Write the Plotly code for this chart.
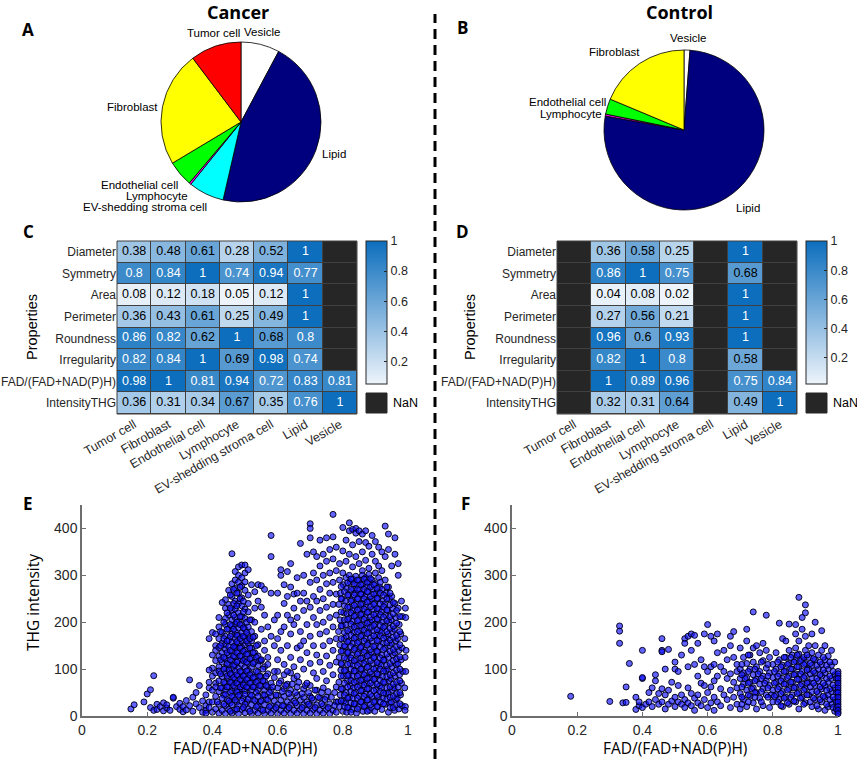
import plotly.graph_objects as go

W, H = 857, 759
def fx(p): return p / W
def fy(p): return 1 - p / H

# ---------------- data ----------------
pie_labels = ["Vesicle", "Lipid", "EV-shedding stroma cell", "Lymphocyte",
              "Endothelial cell", "Fibroblast", "Tumor cell"]
pie_colors = ["#ffffff", "#00007f", "#00ffff", "#ff00ff", "#00ff00", "#ffff00", "#ff0000"]
cancer_share = [7.8, 45.8, 7.2, 0.4, 5.2, 23.3, 10.3]
control_share = [1.2, 76.6, 0.0, 0.4, 3.1, 18.7, 0.0]

categories = ["Tumor cell", "Fibroblast", "Endothelial cell", "Lymphocyte",
              "EV-shedding stroma cell", "Lipid", "Vesicle"]
properties = ["Diameter", "Symmetry", "Area", "Perimeter", "Roundness",
              "Irregularity", "FAD/(FAD+NAD(P)H)", "IntensityTHG"]
N = None
cancer_matrix = [
    [0.38, 0.48, 0.61, 0.28, 0.52, 1, N],
    [0.8, 0.84, 1, 0.74, 0.94, 0.77, N],
    [0.08, 0.12, 0.18, 0.05, 0.12, 1, N],
    [0.36, 0.43, 0.61, 0.25, 0.49, 1, N],
    [0.86, 0.82, 0.62, 1, 0.68, 0.8, N],
    [0.82, 0.84, 1, 0.69, 0.98, 0.74, N],
    [0.98, 1, 0.81, 0.94, 0.72, 0.83, 0.81],
    [0.36, 0.31, 0.34, 0.67, 0.35, 0.76, 1],
]
control_matrix = [
    [N, 0.36, 0.58, 0.25, N, 1, N],
    [N, 0.86, 1, 0.75, N, 0.68, N],
    [N, 0.04, 0.08, 0.02, N, 1, N],
    [N, 0.27, 0.56, 0.21, N, 1, N],
    [N, 0.96, 0.6, 0.93, N, 1, N],
    [N, 0.82, 1, 0.8, N, 0.58, N],
    [N, 1, 0.89, 0.96, N, 0.75, 0.84],
    [N, 0.32, 0.31, 0.64, N, 0.49, 1],
]

# (FAD/(FAD+NAD(P)H), THG intensity) (cancer)
cancer_points = [
    # left tail
    (0.15,15),(0.16,24),(0.19,30),(0.20,47),(0.21,56),(0.22,86),(0.21,18),(0.22,12),(0.23,25),(0.23,14),
    (0.24,20),(0.25,11),(0.25,28),(0.26,17),(0.26,24),(0.27,12),(0.28,38),(0.28,40),(0.29,20),(0.30,27),
    (0.30,14),(0.31,9),(0.31,20),(0.32,33),(0.32,13),(0.33,77),(0.33,22),(0.34,40),(0.34,10),(0.35,26),
    (0.35,50),(0.36,65),(0.36,18),(0.37,32),(0.37,8),(0.38,45),(0.38,22),(0.38,12),(0.39,60),(0.39,30),
    (0.39,165),(0.40,102),(0.40,178),(0.39,98),(0.41,70),(0.41,150),
    # peak near 0.47
    (0.46,346),(0.48,318),(0.49,322),(0.50,322),(0.47,308),(0.48,300),(0.50,305),(0.49,295),(0.51,312),
    (0.45,268),(0.46,282),(0.47,290),(0.47,272),(0.48,285),(0.48,262),(0.49,278),(0.50,268),(0.50,286),
    (0.51,258),(0.52,280),(0.44,248),(0.46,255),(0.49,252),(0.53,265),
    (0.43,242),(0.44,230),(0.45,238),(0.45,215),(0.46,225),(0.46,205),(0.47,245),(0.47,228),(0.47,210),
    (0.48,240),(0.48,220),(0.48,202),(0.49,235),(0.49,212),(0.50,228),(0.50,208),(0.51,222),(0.51,240),
    (0.52,205),(0.42,210),(0.44,208),(0.53,230),
    (0.42,190),(0.42,165),(0.43,178),(0.43,155),(0.44,195),(0.44,170),(0.44,152),(0.45,185),(0.45,162),
    (0.46,192),(0.46,175),(0.46,158),(0.47,196),(0.47,180),(0.47,165),(0.47,150),(0.48,188),(0.48,172),
    (0.48,155),(0.49,195),(0.49,178),(0.49,160),(0.50,185),(0.50,168),(0.50,152),(0.51,190),(0.51,172),
    (0.51,155),(0.52,180),(0.52,160),(0.53,170),(0.54,152),(0.41,175),(0.55,185),
    (0.40,130),(0.41,118),(0.41,140),(0.42,105),(0.42,128),(0.42,146),(0.43,115),(0.43,135),(0.44,102),
    (0.44,122),(0.44,142),(0.45,110),(0.45,130),(0.45,148),(0.46,100),(0.46,118),(0.46,138),(0.47,108),
    (0.47,126),(0.47,145),(0.48,102),(0.48,118),(0.48,136),(0.49,110),(0.49,128),(0.49,146),(0.50,104),
    (0.50,122),(0.50,140),(0.51,112),(0.51,132),(0.52,104),(0.52,124),(0.52,145),(0.53,115),(0.53,135),
    (0.54,108),(0.54,128),(0.55,118),(0.56,140),(0.56,105),(0.57,125),
    (0.39,72),(0.40,55),(0.40,85),(0.41,62),(0.41,92),(0.42,52),(0.42,75),(0.42,96),(0.43,60),(0.43,84),
    (0.44,55),(0.44,70),(0.44,92),(0.45,62),(0.45,80),(0.45,98),(0.46,54),(0.46,72),(0.46,88),(0.47,60),
    (0.47,78),(0.47,95),(0.48,52),(0.48,68),(0.48,86),(0.49,58),(0.49,76),(0.49,94),(0.50,54),(0.50,70),
    (0.50,88),(0.51,60),(0.51,80),(0.51,97),(0.52,55),(0.52,72),(0.52,90),(0.53,62),(0.53,82),(0.54,56),
    (0.54,75),(0.54,94),(0.55,64),(0.55,84),(0.56,55),(0.56,74),(0.57,62),(0.57,90),(0.58,70),(0.58,55),
    (0.59,82),(0.60,60),(0.61,75),(0.62,58),(0.63,68),(0.64,55),(0.65,80),(0.66,62),(0.68,58),(0.70,65),
    (0.72,55),(0.74,60),(0.60,95),(0.62,88),(0.64,92),
    (0.425,60),(0.425,90),(0.425,120),(0.425,150),(0.425,180),(0.435,45),(0.435,72),(0.435,100),(0.435,125),
    (0.435,165),(0.435,200),(0.445,35),(0.445,62),(0.445,85),(0.445,112),(0.445,135),(0.445,160),(0.445,185),
    (0.445,220),(0.455,28),(0.455,50),(0.455,72),(0.455,90),(0.455,120),(0.455,140),(0.455,170),(0.455,195),
    (0.455,230),(0.455,258),(0.465,40),(0.465,65),(0.465,82),(0.465,108),(0.465,128),(0.465,148),(0.465,185),
    (0.465,215),(0.465,240),(0.465,270),(0.475,30),(0.475,52),(0.475,70),(0.475,88),(0.475,115),(0.475,135),
    (0.475,158),(0.475,172),(0.475,200),(0.475,235),(0.475,262),(0.485,45),(0.485,62),(0.485,78),(0.485,95),
    (0.485,128),(0.485,145),(0.485,165),(0.485,195),(0.485,212),(0.485,250),(0.485,275),(0.495,38),(0.495,66),
    (0.495,85),(0.495,118),(0.495,138),(0.495,170),(0.495,188),(0.495,222),(0.495,245),(0.505,30),(0.505,62),
    (0.505,78),(0.505,96),(0.505,115),(0.505,132),(0.505,160),(0.505,178),(0.505,200),(0.515,45),(0.515,70),
    (0.515,88),(0.515,122),(0.515,145),(0.515,165),(0.515,205),(0.525,35),(0.525,62),(0.525,82),(0.525,112),
    (0.525,135),(0.525,168),(0.535,50),(0.535,72),(0.535,95),(0.535,125),(0.535,150),(0.545,30),(0.545,65),
    (0.545,85),(0.545,118),(0.555,45),(0.555,75),(0.555,100),(0.565,35),(0.565,65),(0.565,85),
    # bottom band
    (0.38,6),(0.39,18),(0.40,8),(0.40,30),(0.41,15),(0.41,42),(0.42,6),(0.42,25),(0.43,12),(0.43,38),
    (0.44,5),(0.44,22),(0.44,46),(0.45,14),(0.45,32),(0.46,6),(0.46,24),(0.46,42),(0.47,12),(0.47,34),
    (0.48,5),(0.48,22),(0.48,44),(0.49,14),(0.49,32),(0.50,7),(0.50,25),(0.50,46),(0.51,15),(0.51,36),
    (0.52,5),(0.52,24),(0.52,44),(0.53,12),(0.53,33),(0.54,6),(0.54,22),(0.54,42),(0.55,14),(0.55,32),
    (0.56,5),(0.56,24),(0.56,45),(0.57,12),(0.57,35),(0.58,6),(0.58,22),(0.58,42),(0.59,14),(0.59,32),
    (0.60,5),(0.60,24),(0.60,44),(0.61,12),(0.61,34),(0.62,6),(0.62,22),(0.62,42),(0.63,14),(0.63,30),
    (0.64,5),(0.64,24),(0.64,40),(0.65,12),(0.65,32),(0.66,6),(0.66,22),(0.66,44),(0.67,14),(0.67,34),
    (0.68,5),(0.68,24),(0.68,40),(0.69,12),(0.69,30),(0.70,6),(0.70,22),(0.70,42),(0.71,14),(0.71,34),
    (0.72,5),(0.72,24),(0.73,12),(0.73,38),(0.74,6),(0.74,22),(0.75,14),(0.75,40),(0.76,5),(0.76,26),
    (0.77,12),(0.78,30),(0.78,8),
    (0.575,50),(0.585,62),(0.595,45),(0.605,70),(0.615,52),(0.625,65),(0.635,48),(0.645,68),(0.655,50),
    (0.665,72),(0.675,48),(0.685,65),(0.695,50),(0.705,38),(0.715,55),(0.725,40),(0.735,50),(0.745,35),
    (0.755,52),(0.765,40),(0.775,50),(0.785,30),(0.575,20),(0.595,18),(0.615,22),(0.635,18),(0.655,28),
    (0.675,18),(0.695,25),(0.715,18),(0.735,26),(0.755,18),(0.775,22),(0.415,30),(0.435,25),(0.455,10),
    (0.475,15),(0.495,18),(0.515,10),(0.535,20),(0.555,12),
    # sparse middle
    (0.53,200),(0.54,245),(0.54,280),(0.55,278),(0.55,232),(0.56,270),(0.56,215),(0.57,190),(0.58,385),
    (0.58,340),(0.58,262),(0.58,170),(0.59,150),(0.59,205),(0.60,262),(0.60,215),(0.60,120),(0.61,312),
    (0.61,300),(0.61,180),(0.61,140),(0.62,280),(0.62,240),(0.62,190),(0.62,110),(0.63,308),(0.63,255),
    (0.63,215),(0.63,150),(0.64,325),(0.64,275),(0.64,175),(0.64,125),(0.65,260),(0.65,230),(0.65,195),
    (0.65,105),(0.66,295),(0.66,262),(0.66,210),(0.66,145),(0.67,368),(0.67,245),(0.67,180),(0.67,120),
    (0.68,300),(0.68,262),(0.68,225),(0.68,160),(0.68,100),(0.69,345),(0.69,245),(0.69,195),(0.69,135),
    (0.70,410),(0.70,400),(0.70,380),(0.70,285),(0.70,232),(0.70,170),(0.70,112),(0.71,350),(0.71,305),
    (0.71,255),(0.71,210),(0.71,150),(0.71,92),(0.72,340),(0.72,290),(0.72,245),(0.72,195),(0.72,130),
    (0.72,80),(0.73,375),(0.73,320),(0.73,270),(0.73,225),(0.73,175),(0.73,115),(0.74,345),(0.74,300),
    (0.74,250),(0.74,200),(0.74,150),(0.74,95),(0.75,380),(0.75,330),(0.75,282),(0.75,232),(0.75,180),
    (0.75,128),(0.75,75),(0.76,355),(0.76,305),(0.76,262),(0.76,210),(0.76,160),(0.76,108),(0.77,430),
    (0.77,382),(0.77,335),(0.77,285),(0.77,238),(0.77,190),(0.77,140),(0.77,88),(0.78,360),(0.78,310),
    (0.78,260),(0.78,215),(0.78,165),(0.78,115),(0.78,62),(0.57,110),(0.59,95),(0.63,95),(0.66,85),
    (0.69,70),(0.56,160),(0.60,165),(0.64,205),(0.67,150),(0.55,120),
    # right cluster, upper sparse part
    (0.80,402),(0.80,352),(0.81,330),(0.81,375),(0.82,412),(0.82,395),(0.82,345),(0.83,398),(0.83,365),
    (0.83,318),(0.84,400),(0.84,390),(0.84,340),(0.85,395),(0.85,372),(0.85,325),(0.86,388),(0.86,350),
    (0.86,310),(0.87,395),(0.87,370),(0.87,332),(0.88,362),(0.88,315),(0.89,385),(0.89,345),(0.90,372),
    (0.90,330),(0.90,305),(0.91,360),(0.91,320),(0.92,350),(0.92,310),(0.93,405),(0.93,340),(0.94,388),
    (0.94,355),(0.95,320),(0.96,380),(0.96,345),(0.97,300),(0.97,325),(0.79,325),(0.80,305),
    # right cluster, dense core
    (0.790,290),(0.793,262),(0.788,238),(0.792,205),(0.787,180),(0.791,152),(0.789,125),(0.794,98),(0.788,72),(0.792,45),(0.790,20),
    (0.802,280),(0.798,250),(0.803,220),(0.799,192),(0.804,165),(0.800,138),(0.797,110),(0.802,85),(0.799,58),(0.803,32),(0.800,10),
    (0.810,295),(0.812,272),(0.808,245),(0.813,218),(0.809,195),(0.811,170),(0.807,148),(0.812,122),(0.809,98),(0.814,75),(0.810,50),(0.808,28),(0.812,8),
    (0.820,300),(0.823,285),(0.818,258),(0.822,232),(0.819,208),(0.824,185),(0.820,160),(0.817,136),(0.822,112),(0.819,88),(0.823,64),(0.820,40),(0.818,18),
    (0.830,292),(0.833,270),(0.828,248),(0.832,225),(0.829,202),(0.834,178),(0.830,155),(0.827,130),(0.832,108),(0.829,85),(0.833,60),(0.830,38),(0.828,14),
    (0.840,298),(0.843,280),(0.838,262),(0.842,238),(0.839,215),(0.844,192),(0.840,168),(0.837,145),(0.842,120),(0.839,96),(0.843,74),(0.840,50),(0.838,26),(0.842,6),
    (0.850,290),(0.853,270),(0.848,250),(0.852,228),(0.849,205),(0.854,182),(0.850,158),(0.847,135),(0.852,112),(0.849,88),(0.853,65),(0.850,42),(0.848,20),
    (0.860,300),(0.863,282),(0.858,260),(0.862,240),(0.859,218),(0.864,195),(0.860,172),(0.857,148),(0.862,124),(0.859,100),(0.863,78),(0.860,55),(0.858,30),(0.862,10),
    (0.870,295),(0.873,275),(0.868,255),(0.872,232),(0.869,210),(0.874,188),(0.870,165),(0.867,140),(0.872,116),(0.869,92),(0.873,70),(0.870,46),(0.868,22),
    (0.880,302),(0.883,285),(0.878,265),(0.882,245),(0.879,222),(0.884,200),(0.880,178),(0.877,155),(0.882,130),(0.879,106),(0.883,82),(0.880,58),(0.878,35),(0.882,12),
    (0.890,290),(0.893,270),(0.888,250),(0.892,228),(0.889,205),(0.894,182),(0.890,160),(0.887,136),(0.892,112),(0.889,90),(0.893,66),(0.890,42),(0.888,18),
    (0.900,282),(0.903,262),(0.898,240),(0.902,218),(0.899,196),(0.904,172),(0.900,150),(0.897,126),(0.902,102),(0.899,80),(0.903,56),(0.900,32),(0.898,10),
    (0.910,295),(0.913,275),(0.908,250),(0.912,228),(0.909,205),(0.914,182),(0.910,160),(0.907,136),(0.912,112),(0.909,88),(0.913,64),(0.910,40),(0.908,20),
    (0.920,270),(0.923,245),(0.918,222),(0.922,200),(0.919,178),(0.924,155),(0.920,130),(0.917,108),(0.922,84),(0.919,60),(0.923,38),(0.920,14),
    (0.930,290),(0.933,262),(0.928,238),(0.932,215),(0.929,192),(0.934,168),(0.930,145),(0.927,120),(0.932,96),(0.929,72),(0.933,48),(0.930,25),
    (0.940,275),(0.943,250),(0.938,225),(0.942,200),(0.939,175),(0.944,150),(0.940,125),(0.937,100),(0.942,75),(0.939,50),(0.943,28),(0.940,8),
    (0.950,255),(0.953,230),(0.948,205),(0.952,180),(0.949,155),(0.954,130),(0.950,105),(0.947,80),(0.952,55),(0.949,30),
    (0.960,240),(0.963,210),(0.958,185),(0.962,160),(0.959,135),(0.964,110),(0.960,85),(0.957,60),(0.962,35),(0.959,12),
    (0.970,230),(0.973,195),(0.968,165),(0.972,140),(0.969,112),(0.974,88),(0.970,62),(0.967,38),(0.972,15),
    (0.980,245),(0.983,212),(0.978,175),(0.982,145),(0.979,120),(0.984,95),(0.980,70),(0.977,45),(0.982,22),
    (0.992,230),(0.993,210),(0.990,165),(0.994,140),(0.991,125),(0.993,95),(0.990,60),(0.992,20),(0.991,12),
]
# further points of the dense right-hand core of panel E, listed per FAD column
cancer_core_columns = {
    0.795: [276, 250, 222, 192, 165, 138, 112, 85, 58, 32],
    0.805: [265, 235, 205, 178, 150, 124, 97, 70, 45, 20],
    0.815: [284, 258, 232, 206, 182, 158, 135, 110, 86, 62, 38, 18],
    0.825: [292, 270, 245, 220, 196, 172, 148, 124, 100, 76, 52, 28, 8],
    0.835: [282, 258, 236, 213, 190, 166, 142, 118, 96, 72, 48, 26],
    0.845: [290, 270, 250, 226, 203, 180, 156, 132, 108, 85, 62, 38, 15],
    0.855: [280, 260, 238, 216, 193, 170, 146, 123, 100, 76, 54, 30],
    0.865: [292, 270, 250, 228, 206, 183, 160, 136, 112, 88, 66, 42, 20],
    0.875: [285, 265, 243, 221, 198, 176, 152, 128, 104, 80, 58, 34, 10],
    0.885: [293, 275, 255, 233, 211, 189, 166, 142, 118, 94, 70, 46, 24],
    0.895: [280, 260, 238, 216, 193, 171, 148, 124, 100, 78, 54, 30],
    0.905: [272, 251, 229, 207, 184, 161, 138, 114, 90, 68, 44, 20],
    0.915: [285, 262, 239, 216, 193, 171, 148, 124, 100, 76, 52, 30],
    0.925: [258, 233, 211, 189, 166, 142, 119, 96, 72, 49, 26],
    0.935: [275, 250, 226, 203, 180, 156, 132, 108, 84, 60, 36],
    0.945: [262, 237, 212, 187, 162, 138, 112, 88, 62, 40, 18],
    0.955: [242, 218, 192, 168, 142, 118, 92, 68, 42, 18],
    0.965: [225, 198, 172, 148, 122, 98, 72, 48, 24],
    0.975: [212, 180, 152, 126, 100, 75, 50, 26],
}

# (FAD/(FAD+NAD(P)H), THG intensity) (control)
control_points = [
    (0.18,42),(0.30,31),(0.33,192),(0.33,181),(0.33,155),(0.34,28),(0.35,29),(0.36,112),(0.35,62),(0.38,40),
    (0.38,14),(0.39,22),(0.39,30),(0.40,80),(0.40,82),(0.40,140),(0.40,18),(0.41,25),
    (0.42,50),(0.42,30),(0.43,20),(0.43,60),(0.44,35),(0.44,75),(0.44,88),(0.45,25),(0.45,48),(0.46,165),
    (0.46,140),(0.46,137),(0.46,58),(0.46,30),(0.47,15),(0.47,45),(0.47,100),(0.48,25),(0.48,55),(0.48,142),
    (0.49,32),(0.49,72),(0.50,20),(0.50,40),(0.50,115),(0.50,100),(0.51,30),(0.51,65),(0.51,95),(0.52,25),
    (0.52,45),(0.52,130),(0.53,165),(0.53,155),(0.53,35),(0.53,18),(0.54,170),(0.54,60),(0.54,28),(0.54,105),
    (0.55,175),(0.55,140),(0.55,48),(0.55,22),(0.56,172),(0.56,110),(0.56,38),(0.56,12),(0.57,155),(0.57,85),
    (0.57,45),(0.57,28),(0.58,120),(0.58,70),(0.58,22),(0.59,175),(0.59,105),(0.59,65),(0.59,35),(0.60,195),
    (0.60,95),(0.60,50),(0.60,18),(0.61,170),(0.61,105),(0.61,62),(0.61,28),(0.62,160),(0.62,110),(0.62,75),
    (0.62,40),(0.62,12),(0.63,175),(0.63,135),(0.63,85),(0.63,30),(0.64,105),(0.64,58),(0.64,22),(0.65,140),
    (0.65,95),(0.65,45),
    (0.66,120),(0.66,80),(0.66,35),(0.67,170),(0.67,150),(0.67,90),(0.67,55),(0.67,18),(0.68,180),(0.68,125),
    (0.68,72),(0.68,40),(0.69,110),(0.69,95),(0.69,60),(0.69,25),(0.70,145),(0.70,100),(0.70,80),(0.70,48),
    (0.70,15),(0.71,125),(0.71,92),(0.71,68),(0.71,35),(0.72,185),(0.72,160),(0.72,112),(0.72,82),(0.72,55),
    (0.72,20),(0.73,130),(0.73,100),(0.73,72),(0.73,42),(0.74,222),(0.74,145),(0.74,115),(0.74,88),(0.74,60),
    (0.74,28),(0.75,150),(0.75,105),(0.75,78),(0.75,50),(0.75,15),(0.76,135),(0.76,95),(0.76,68),(0.76,38),
    (0.77,155),(0.77,118),(0.77,85),(0.77,58),(0.77,22),(0.78,215),(0.78,140),(0.78,102),(0.78,75),(0.78,45),
    (0.79,125),(0.79,92),(0.79,65),(0.79,18),(0.80,110),(0.80,82),(0.80,55),(0.80,30),
    (0.81,135),(0.81,100),(0.81,72),(0.81,45),(0.82,198),(0.82,120),(0.82,90),(0.82,62),(0.82,35),(0.83,165),
    (0.83,108),(0.83,80),(0.83,52),(0.83,20),(0.84,160),(0.84,125),(0.84,95),(0.84,68),(0.84,40),(0.85,196),
    (0.85,140),(0.85,112),(0.85,85),(0.85,58),(0.85,25),(0.86,130),(0.86,100),(0.86,72),(0.86,45),(0.87,195),
    (0.87,175),(0.87,145),(0.87,118),(0.87,90),(0.87,62),(0.87,30),(0.88,253),(0.88,160),(0.88,132),(0.88,105),
    (0.88,78),(0.88,50),(0.88,15),(0.89,210),(0.89,185),(0.89,120),(0.89,95),(0.89,68),(0.89,40),(0.90,237),
    (0.90,220),(0.90,170),(0.90,140),(0.90,112),(0.90,85),(0.90,58),(0.90,28),(0.91,150),(0.91,125),(0.91,100),
    (0.91,72),(0.91,45),(0.92,175),(0.92,135),(0.92,108),(0.92,80),(0.92,52),(0.92,20),(0.93,200),(0.93,150),
    (0.93,120),(0.93,92),(0.93,65),(0.93,35),(0.94,130),(0.94,100),(0.94,75),(0.94,48),(0.94,15),(0.95,182),
    (0.95,140),(0.95,110),(0.95,85),(0.95,58),(0.95,30),(0.96,150),(0.96,120),(0.96,92),(0.96,65),(0.96,40),
    (0.96,12),(0.97,128),(0.97,100),(0.97,72),(0.97,45),(0.97,20),(0.98,140),(0.98,108),(0.98,80),(0.98,52),
    (0.98,25),(0.99,115),(0.99,88),(0.99,60),(0.99,35),(0.99,10),
    (1.0,95),(1.0,85),(1.0,75),(1.0,65),(1.0,55),(1.0,45),(1.0,35),(1.0,25),(1.0,15),(1.0,8),
    (0.815,85),(0.825,48),(0.835,95),(0.845,55),(0.855,100),(0.865,60),(0.875,105),(0.885,65),(0.895,110),
    (0.905,70),(0.915,90),(0.925,95),(0.935,80),(0.945,62),(0.955,70),(0.965,80),(0.975,58),(0.985,66),
    (0.995,50),(0.705,62),(0.715,80),(0.725,95),(0.735,58),(0.745,75),(0.755,90),(0.765,52),(0.775,70),
    (0.785,85),(0.795,45),
]
# further points of the dense core of panel F, listed per FAD column
control_core_columns = {
    0.705: [110, 88, 40, 25], 0.725: [130, 70, 45, 30], 0.745: [100, 50, 40], 0.765: [115, 80, 30],
    0.785: [110, 60, 40], 0.805: [95, 70, 42], 0.815: [115, 58, 30], 0.825: [105, 75, 22],
    0.835: [125, 68, 38], 0.845: [110, 82, 28], 0.855: [125, 72, 40], 0.865: [115, 88, 32],
    0.875: [130, 78, 48], 0.885: [118, 90, 38], 0.895: [125, 82, 55, 25], 0.905: [130, 98, 45],
    0.915: [112, 62, 30], 0.925: [122, 70, 38], 0.935: [108, 52, 22], 0.945: [115, 88, 35],
    0.955: [125, 98, 42], 0.965: [108, 55, 25], 0.975: [115, 85, 35], 0.985: [95, 40, 18],
    0.995: [80, 30, 15], 1.0: [90, 80, 70, 60, 50, 40, 30, 20, 12, 5],
}

x_ticks = [0, 0.2, 0.4, 0.6, 0.8, 1]
y_ticks = [0, 100, 200, 300, 400]
cbar_ticks = [0.2, 0.4, 0.6, 0.8, 1]

def all_points(points, columns):
    xs = [p[0] for p in points]
    ys = [p[1] for p in points]
    for cx, col in columns.items():
        xs += [cx] * len(col)
        ys += col
    return xs, ys

# ---------------- figure ----------------
TXT = "#262626"
FONT = "Liberation Sans, Arial, sans-serif"
TITLE_FONT = "Open Sans, sans-serif"
fig = go.Figure()

# pies
for share, dom in [(cancer_share, (161, 321, 42, 202)), (control_share, (604, 764, 50, 210))]:
    labs = [l for l, v in zip(pie_labels, share) if v > 0]
    vals = [v for v in share if v > 0]
    cols = [c for c, v in zip(pie_colors, share) if v > 0]
    fig.add_trace(go.Pie(labels=labs, values=vals, sort=False, direction="clockwise", rotation=0,
                         marker=dict(colors=cols, line=dict(color="black", width=0.8)),
                         textinfo="none", hoverinfo="label+percent", showlegend=False,
                         domain=dict(x=[fx(dom[0]), fx(dom[1])], y=[fy(dom[3]), fy(dom[2])])))

colorscale = [[0, "#eef4fb"], [1, "#0c6ebd"]]

def add_heat(matrix, xa, ya, cb_x):
    vals = [v for row in matrix for v in row if v is not None]
    fig.add_trace(go.Heatmap(z=matrix, x=list(range(len(categories))), y=list(range(len(properties))),
                             zmin=min(vals), zmax=1, colorscale=colorscale, xgap=1, ygap=1,
                             xaxis=xa, yaxis=ya, hoverinfo="skip",
                             colorbar=dict(x=fx(cb_x), xanchor="left", xpad=0, y=fy(241), yanchor="top",
                                           ypad=0, len=(384 - 241) / H, lenmode="fraction",
                                           thickness=21, thicknessmode="pixels",
                                           outlinewidth=1, outlinecolor=TXT,
                                           tickvals=cbar_ticks, ticktext=[f"{t:g}" for t in cbar_ticks],
                                           ticks="inside", ticklen=3, tickcolor=TXT,
                                           tickfont=dict(size=12.5, color=TXT, family=FONT))))
    nan_z = [[1 if v is None else None for v in row] for row in matrix]
    fig.add_trace(go.Heatmap(z=nan_z, x=list(range(len(categories))), y=list(range(len(properties))),
                             colorscale=[[0, "#262626"], [1, "#262626"]], showscale=False,
                             xgap=1, ygap=1, xaxis=xa, yaxis=ya, hoverinfo="skip"))
    tx, ty, tt, tc = [], [], [], []
    for i, row in enumerate(matrix):
        for j, v in enumerate(row):
            if v is None:
                continue
            tx.append(j); ty.append(i); tt.append(f"{v:g}")
            tc.append("white" if v >= 0.7 else "black")
    fig.add_trace(go.Scatter(x=tx, y=ty, text=tt, mode="text", xaxis=xa, yaxis=ya,
                             textfont=dict(color=tc, size=12.5, family=FONT),
                             hoverinfo="skip", showlegend=False))

add_heat(cancer_matrix, "x", "y", 366)
add_heat(control_matrix, "x2", "y2", 806)

marker = dict(size=6, color="rgba(15,15,255,0.65)", line=dict(color="rgba(0,0,25,0.95)", width=1))
ex, ey = all_points(cancer_points, cancer_core_columns)
cx_, cy_ = all_points(control_points, control_core_columns)
fig.add_trace(go.Scatter(x=ex, y=ey, mode="markers", marker=marker, xaxis="x3", yaxis="y3",
                         cliponaxis=False, showlegend=False, hoverinfo="x+y"))
fig.add_trace(go.Scatter(x=cx_, y=cy_, mode="markers", marker=marker, xaxis="x4", yaxis="y4",
                         cliponaxis=False, showlegend=False, hoverinfo="x+y"))

heat_x = dict(range=[-0.5, 6.5], tickvals=list(range(7)), ticktext=categories, tickangle=-30,
              showgrid=False, zeroline=False, ticks="", showline=False, automargin=False,
              tickfont=dict(size=12.5, color=TXT, family=FONT), fixedrange=True)
heat_y = dict(range=[7.5, -0.5], tickvals=list(range(8)), ticktext=properties,
              showgrid=False, zeroline=False, ticks="", showline=False, automargin=False,
              tickfont=dict(size=12, color=TXT, family=FONT), fixedrange=True)
sc_x = dict(range=[0, 1], tickvals=x_ticks, ticktext=[f"{t:g}" for t in x_ticks],
            showgrid=False, zeroline=False, showline=True, linecolor="#6e6e6e", linewidth=1.5,
            ticks="inside", ticklen=4, tickcolor="#6e6e6e", automargin=False,
            tickfont=dict(size=14, color=TXT, family=FONT))
sc_y = dict(range=[0, 450], tickvals=y_ticks, ticktext=[str(t) for t in y_ticks],
            showgrid=False, zeroline=False, showline=True, linecolor="#6e6e6e", linewidth=1.5,
            ticks="inside", ticklen=4, tickcolor="#6e6e6e", automargin=False,
            tickfont=dict(size=14, color=TXT, family=FONT))

fig.update_layout(
    width=W, height=H, margin=dict(l=0, r=0, t=0, b=0, autoexpand=False),
    paper_bgcolor="white", plot_bgcolor="white", showlegend=False,
    font=dict(family=FONT, color=TXT),
    xaxis=dict(domain=[fx(117), fx(357)], anchor="y", **heat_x),
    yaxis=dict(domain=[fy(414), fy(241)], anchor="x", **heat_y),
    xaxis2=dict(domain=[fx(557), fx(797)], anchor="y2", **heat_x),
    yaxis2=dict(domain=[fy(414), fy(241)], anchor="x2", **heat_y),
    xaxis3=dict(domain=[fx(82), fx(408)], anchor="y3", **sc_x),
    yaxis3=dict(domain=[fy(716), fy(505)], anchor="x3", **sc_y),
    xaxis4=dict(domain=[fx(512), fx(838)], anchor="y4", **sc_x),
    yaxis4=dict(domain=[fy(716), fy(505)], anchor="x4", **sc_y),
)

shapes = []
for xa, ya in [("x", "y"), ("x2", "y2")]:
    shapes.append(dict(type="rect", xref=f"{xa} domain", yref=f"{ya} domain", x0=0, x1=1, y0=0, y1=1,
                       fillcolor="#404040", line=dict(width=0), layer="below"))
    shapes.append(dict(type="rect", xref=f"{xa} domain", yref=f"{ya} domain", x0=0, x1=1, y0=0, y1=1,
                       fillcolor="rgba(0,0,0,0)", line=dict(color="#404040", width=1), layer="above"))
for x0 in (366, 806):
    shapes.append(dict(type="rect", xref="paper", yref="paper", x0=fx(x0), x1=fx(x0 + 21),
                       y0=fy(413), y1=fy(393), fillcolor="#262626", line=dict(color="#262626", width=1)))
shapes.append(dict(type="line", xref="paper", yref="paper", x0=fx(435), x1=fx(435), y0=fy(759), y1=fy(14),
                   line=dict(color="black", width=3, dash="10px,6px")))
fig.update_layout(shapes=shapes)

ann = []
def text(x, y, s, size=11.5, family=FONT, bold=False, xanchor="center", angle=0):
    ann.append(dict(x=fx(x), y=fy(y), xref="paper", yref="paper", text=f"<b>{s}</b>" if bold else s,
                    showarrow=False, xanchor=xanchor, yanchor="middle", textangle=angle,
                    font=dict(size=size, family=family, color="black")))

text(238, 12, "Cancer", 18, TITLE_FONT, True)
text(679, 12, "Control", 18, TITLE_FONT, True)
for lx, ly, s in [(28, 29, "A"), (463, 28, "B"), (28, 232, "C"), (463, 232, "D"), (28, 503, "E"), (465, 503, "F")]:
    text(lx, ly, s, 17, TITLE_FONT, True)

for lx, ly, s in [(213, 33, "Tumor cell"), (262, 32, "Vesicle"), (132, 107, "Fibroblast"), (334, 154, "Lipid"),
                  (139, 185, "Endothelial cell"), (157, 196, "Lymphocyte"), (145, 207, "EV-shedding stroma cell"),
                  (688, 38, "Vesicle"), (614, 52, "Fibroblast"), (567, 102, "Endothelial cell"),
                  (571, 114, "Lymphocyte"), (748, 208, "Lipid")]:
    text(lx, ly, s, 11.5)

text(32, 327, "Properties", 14.5, FONT, angle=-90)
text(470, 327, "Properties", 14.5, FONT, angle=-90)
for x0 in (391, 831):
    text(x0, 403, "NaN", 12.5, FONT, xanchor="left")

text(33, 603, "THG intensity", 15.5, TITLE_FONT, angle=-90)
text(465, 603, "THG intensity", 15.5, TITLE_FONT, angle=-90)
text(245, 748, "FAD/(FAD+NAD(P)H)", 15.5, TITLE_FONT)
text(675, 748, "FAD/(FAD+NAD(P)H)", 15.5, TITLE_FONT)
fig.update_layout(annotations=ann)

fig.write_html("out.html", config={"displayModeBar": False},
               post_script="document.body.style.margin='0';document.body.style.overflow='hidden';")
